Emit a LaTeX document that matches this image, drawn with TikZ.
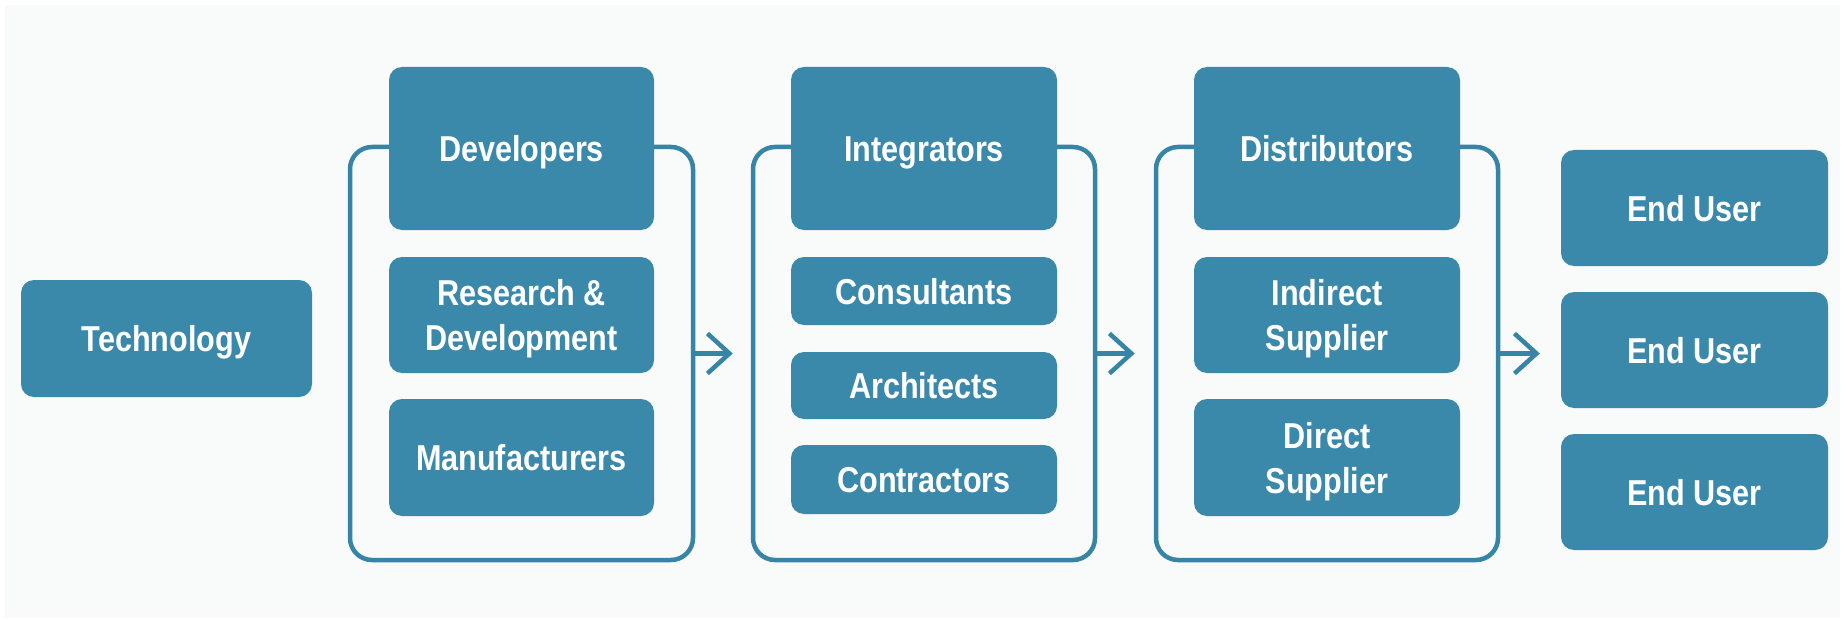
\documentclass[tikz,border=0pt]{standalone}
\usepackage{fontspec}
\newfontfamily\boxfont[FakeStretch=0.85]{Liberation Sans}
\usetikzlibrary{arrows.meta}
\definecolor{boxblue}{HTML}{3B89AA}
\definecolor{lineblue}{HTML}{3685A6}
\definecolor{bgcol}{HTML}{F9FAFA}
\newcommand\lbl[1]{\smash{#1}\rule{0pt}{26pt}}
\tikzset{
  box/.style={fill=boxblue, rounded corners=13pt, inner sep=0pt, text=white,
    align=center, font=\boxfont\bfseries\fontsize{36}{45}\selectfont},
  grp/.style={draw=lineblue, line width=4.5pt, rounded corners=22pt, inner sep=0pt},
  flow/.style={draw=lineblue, line width=4.5pt,
    -{Straight Barb[length=22pt,width=40pt,line width=4.5pt]}}
}
\begin{document}
\begin{tikzpicture}[x=1pt,y=-1pt]
\useasboundingbox (0,0) rectangle (1845,623);
\fill[white] (0,0) rectangle (1845,623);
\fill[bgcol] (5,5) rectangle (1840,618);

% group outlines
\node[grp, minimum width=343pt, minimum height=413pt] (devgrp) at (521.5,353.5) {};
\node[grp, minimum width=342pt, minimum height=413pt] (intgrp) at (924,353.5) {};
\node[grp, minimum width=342pt, minimum height=413pt] (distgrp) at (1327,353.5) {};

% left
\node[box, minimum width=291pt, minimum height=117pt] (tech) at (166.5,338.5) {\lbl{Technology}};

% developers column
\node[box, minimum width=265pt, minimum height=163pt] (dev) at (521.5,148.5) {\lbl{Developers}};
\node[box, minimum width=265pt, minimum height=116pt] (rd) at (521.5,315) {\lbl{Research \&}\\\lbl{Development}};
\node[box, minimum width=265pt, minimum height=117pt] (man) at (521.5,457.5) {\lbl{Manufacturers}};

% integrators column
\node[box, minimum width=266pt, minimum height=163pt] (integ) at (924,148.5) {\lbl{Integrators}};
\node[box, minimum width=266pt, minimum height=68pt] (cons) at (924,291) {\lbl{Consultants}};
\node[box, minimum width=266pt, minimum height=67pt] (arch) at (924,385.5) {\lbl{Architects}};
\node[box, minimum width=266pt, minimum height=69pt] (cont) at (924,479.5) {\lbl{Contractors}};

% distributors column
\node[box, minimum width=266pt, minimum height=163pt] (dist) at (1327,148.5) {\lbl{Distributors}};
\node[box, minimum width=266pt, minimum height=116pt] (ind) at (1327,315) {\lbl{Indirect}\\\lbl{Supplier}};
\node[box, minimum width=266pt, minimum height=117pt] (dir) at (1327,457.5) {\lbl{Direct}\\\lbl{Supplier}};

% end users
\node[box, minimum width=267pt, minimum height=116pt] (eu1) at (1694.5,208) {\lbl{End User}};
\node[box, minimum width=267pt, minimum height=116pt] (eu2) at (1694.5,350) {\lbl{End User}};
\node[box, minimum width=267pt, minimum height=116pt] (eu3) at (1694.5,492) {\lbl{End User}};

% arrows
\draw[flow, shorten >=18pt] (devgrp.east) -- (intgrp.west);
\draw[flow, shorten >=19pt] (intgrp.east) -- (distgrp.west);
\draw[flow, shorten >=21pt] (distgrp.east) -- (distgrp.east -| eu2.west);
\end{tikzpicture}
\end{document}
